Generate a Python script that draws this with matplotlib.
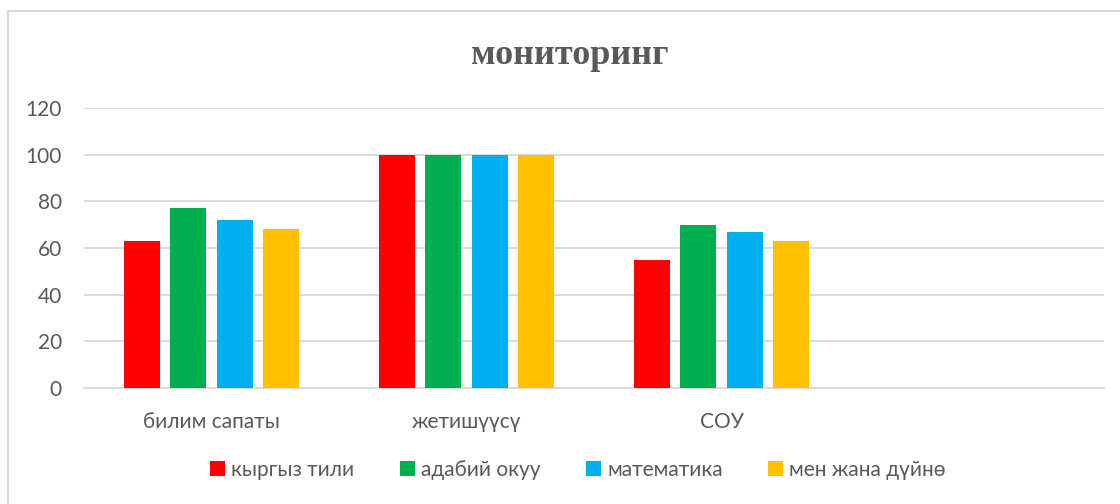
import matplotlib
matplotlib.use("Agg")
import matplotlib.pyplot as plt
from matplotlib.lines import Line2D
from matplotlib.patches import Patch
import numpy as np

categories = ["билим сапаты", "жетишүүсү", "СОУ", ""]
series_names = ["кыргыз тили", "адабий окуу", "математика", "мен жана дүйнө"]
kyrgyz = [63, 100, 55]
adabiy = [77, 100, 70]
matem = [72, 100, 67]
men_jana = [68, 100, 63]
colors = ["#FF0000", "#00B050", "#00B0F0", "#FFC000"]
yticks = [0, 20, 40, 60, 80, 100, 120]

W, H = 1120, 504
fig = plt.figure(figsize=(W / 100, H / 100), dpi=100)
fig.patch.set_facecolor("white")

# frame
fig.add_artist(Line2D([8 / W, 1.0], [1 - 11 / H, 1 - 11 / H], color="#D9D9D9", lw=1.5, transform=fig.transFigure))
fig.add_artist(Line2D([8 / W, 8 / W], [0, 1 - 11 / H], color="#D9D9D9", lw=1.5, transform=fig.transFigure))

ax = fig.add_axes([84 / W, 1 - 388 / H, (1104 - 84) / W, (388 - 108) / H])

data = [kyrgyz, adabiy, matem, men_jana]
x = np.arange(3)
bw = 0.141
pitch = 0.181
for i, (vals, c) in enumerate(zip(data, colors)):
    ax.bar(x + (i - 1.5) * pitch, vals, width=bw, color=c, zorder=3)

ax.set_xlim(-0.5, 3.5)
ax.set_ylim(0, 120)
ax.set_yticks(yticks)
ax.set_xticks(np.arange(4))
ax.set_xticklabels(categories)
ax.grid(axis="y", color="#D9D9D9", lw=1.3, zorder=0)
for s in ["top", "right", "left"]:
    ax.spines[s].set_visible(False)
ax.spines["bottom"].set_color("#D9D9D9")
ax.spines["bottom"].set_linewidth(1.3)
ax.tick_params(axis="both", length=0, colors="#595959", labelsize=15)
ax.tick_params(axis="x", pad=17)
ax.tick_params(axis="y", pad=16)
for lab in ax.get_xticklabels() + ax.get_yticklabels():
    lab.set_fontfamily("Lato")

fig.text(570 / W, 1 - 56 / H, "мониторинг", ha="center", va="center",
         fontsize=26, fontweight="bold", family="Liberation Serif", color="#595959")

handles = [Patch(facecolor=c, edgecolor="none") for c in colors]
fig.legend(handles, series_names, loc="center", bbox_to_anchor=(578 / W, 1 - 470 / H),
           ncol=4, frameon=False, prop={"family": "Lato", "size": 15},
           labelcolor="#595959", handlelength=0.7, handleheight=0.7,
           handletextpad=0.3, columnspacing=2.2)

fig.savefig("out.png", dpi=100, facecolor="white")
